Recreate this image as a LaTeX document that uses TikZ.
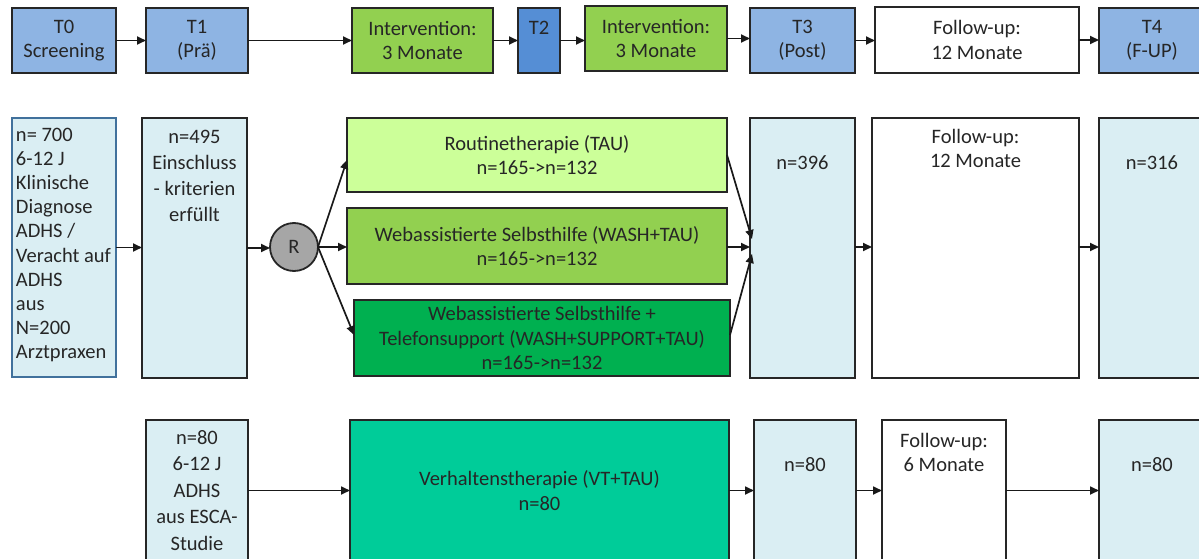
\documentclass[tikz,border=0pt]{standalone}
\usepackage{fontspec}
\setmainfont{Carlito}
\usetikzlibrary{arrows.meta,calc}
\definecolor{tblue}{HTML}{8EB4E3}
\definecolor{tdblue}{HTML}{558ED5}
\definecolor{lblue}{HTML}{DAEEF3}
\definecolor{bblue}{HTML}{41719C}
\definecolor{gmid}{HTML}{92D050}
\definecolor{glight}{HTML}{CCFF99}
\definecolor{gdark}{HTML}{00B050}
\definecolor{gteal}{HTML}{00CC99}
\definecolor{rgray}{HTML}{A6A6A6}
\definecolor{txtc}{HTML}{262626}
\newcommand\tstrut{\rule{0pt}{15pt}}
\newcommand\bx[7]{\node[#6, anchor=north west, minimum width={(#4-#2)*1pt}, minimum height={(#5-#3)*1pt}] (#1) at (#2,#3) {#7};}
\begin{document}
\begin{tikzpicture}[x=1pt,y=-1pt,
  every node/.style={inner sep=0pt, outer sep=0pt, text=txtc, font=\fontsize{20.5}{24.5}\selectfont},
  boxbase/.style={draw=black!85, line width=1.8pt, rectangle, align=center},
  tb/.style={boxbase, fill=tblue},
  tdb/.style={boxbase, fill=tdblue},
  lb/.style={boxbase, fill=lblue},
  wb/.style={boxbase, fill=white},
  gm/.style={boxbase, fill=gmid},
  gl/.style={boxbase, fill=glight},
  gd/.style={boxbase, fill=gdark},
  gt/.style={boxbase, fill=gteal},
  txt/.style={align=center, anchor=north},
  arr/.style={-{Triangle[length=9pt,width=8pt]}, line width=1.7pt, draw=black!90}
]
\useasboundingbox (0,0) rectangle (1199,559);
\clip (0,0) rectangle (1199,559);
% Row 1
\bx{t0}{12}{8}{116}{73}{tb}{T0\\Screening}
\bx{t1}{146}{8}{248}{73}{tb}{T1\\(Prä)}
\bx{i1}{352}{8}{493}{73}{gm}{Intervention:\\3 Monate}
\bx{t2}{518}{8}{560}{73}{tdb}{T2\\\mbox{}}
\bx{i2}{585}{6}{727}{71}{gm}{Intervention:\\3 Monate}
\bx{t3}{750}{8}{855}{73}{tb}{T3\\(Post)}
\bx{fu}{875}{7}{1079}{73}{wb}{Follow-up:\\12 Monate}
\bx{t4}{1099}{8}{1205}{73}{tb}{T4\\(F-UP)}
\draw[arr] (t0.east) -- (t1.west);
\draw[arr] (t1.east) -- (t1.east -| i1.west);
\draw[arr] (i1.east) -- (i1.east -| t2.west);
\draw[arr] (t2.east) -- (t2.east -| i2.west);
\draw[arr] (i2.east) -- (i2.east -| t3.west);
\draw[arr] (t3.east) -- (t3.east -| fu.west);
\draw[arr] (fu.east) -- (fu.east -| t4.west);
% Row 2
\bx{a}{12}{118}{116}{377}{lb, draw=bblue}{}
\node[anchor=north west, align=left, font=\fontsize{20.5}{24.2}\selectfont] (at) at ($(a.north west)+(4,8)$) {\tstrut n= 700\\6-12 J\\Klinische\\Diagnose\\ADHS /\\Veracht auf\\ADHS\\aus\\N=200\\Arztpraxen};
\bx{b}{142}{118}{247}{378}{lb}{}
\node[txt, font=\fontsize{20.5}{26}\selectfont] (bt) at ($(b.north)+(0,10)$) {\tstrut n=495\\Einschluss\\- kriterien\\erfüllt};
\node[circle, draw=black!85, line width=1.8pt, fill=rgray, minimum size=48pt] (r) at (294,247) {R};
\bx{rt}{347}{118}{727}{192}{gl}{Routinetherapie (TAU)\\n=165->n=132}
\bx{wa}{347}{208}{727}{284}{gm}{Webassistierte Selbsthilfe (WASH+TAU)\\n=165->n=132}
\bx{ws}{354}{300}{730}{376}{gd}{Webassistierte Selbsthilfe +\\Telefonsupport (WASH+SUPPORT+TAU)\\n=165->n=132}
\bx{p}{750}{118}{855}{378}{lb}{}
\node[txt] (pt) at ($(p.north)+(0,36)$) {\tstrut n=396};
\bx{f2}{872}{118}{1079}{378}{wb}{}
\node[txt] (f2t) at ($(f2.north)+(0,10)$) {\tstrut Follow-up:\\12 Monate};
\bx{q}{1099}{118}{1205}{378}{lb}{}
\node[txt] (qt) at ($(q.north)+(0,36)$) {\tstrut n=316};
\draw[arr] (a.east) -- (a.east -| b.west);
\draw[arr] (b.east) -- (b.east -| r.west);
\draw[arr] (r.east) -- ($(rt.south west)+(0,-32)$);
\draw[arr] (r.east) -- (r.east -| wa.west);
\draw[arr] (r.east) -- ($(ws.north west)+(0,35)$);
\coordinate (p1) at ($(p.west)+(2,-9)$);
\coordinate (p3) at ($(p.west)+(2,6)$);
\draw[arr] ($(rt.north east)+(0,37)$) -- (p1);
\draw[arr] (wa.east |- r.east) -- (p.west |- r.east);
\draw[arr] ($(ws.north east)+(0,35)$) -- (p3);
\draw[arr] (p.east |- r.east) -- (f2.west |- r.east);
\draw[arr] (f2.east |- r.east) -- (q.west |- r.east);
% Row 3
\bx{s}{146}{420}{248}{561}{lb}{}
\node[txt, font=\fontsize{20.5}{26.5}\selectfont] (st) at ($(s.north)+(0,9)$) {\tstrut n=80\\6-12 J\\ADHS\\aus ESCA-\\Studie};
\bx{vt}{350}{420}{729}{561}{gt}{Verhaltenstherapie (VT+TAU)\\n=80}
\bx{u}{754}{420}{856}{561}{lb}{}
\node[txt] (ut) at ($(u.north)+(0,36)$) {\tstrut n=80};
\bx{f3}{882}{420}{1006}{561}{wb}{}
\node[txt] (f3t) at ($(f3.north)+(0,12)$) {\tstrut Follow-up:\\6 Monate};
\bx{v}{1099}{420}{1205}{561}{lb}{}
\node[txt] (vtt) at ($(v.north)+(0,36)$) {\tstrut n=80};
\draw[arr] (s.east) -- (s.east -| vt.west);
\draw[arr] (vt.east) -- (vt.east -| u.west);
\draw[arr] (u.east) -- (u.east -| f3.west);
\draw[arr] (f3.east) -- (f3.east -| v.west);
\end{tikzpicture}
\end{document}
